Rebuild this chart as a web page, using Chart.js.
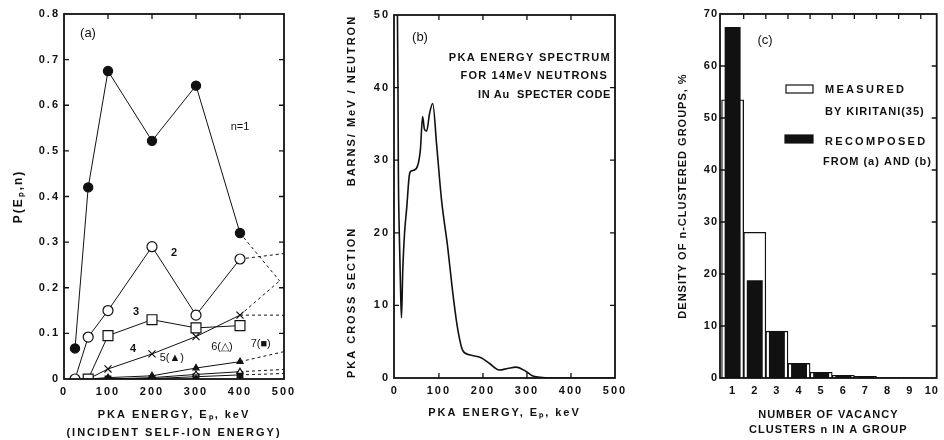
<!DOCTYPE html>
<html>
<head>
<meta charset="utf-8">
<script src="https://cdn.jsdelivr.net/npm/chart.js@4.4.0/dist/chart.umd.min.js"></script>
<style>
  body { margin: 0; background: #fff; }
  #figura { position: relative; width: 944px; height: 440px; overflow: hidden; background: #fff; }
  #figura canvas { position: absolute; top: 0; }
</style>
</head>
<body>
<div id="figura">
  <canvas id="graf_a" width="300" height="440" style="left:0px"></canvas>
  <canvas id="graf_b" width="350" height="440" style="left:300px"></canvas>
  <canvas id="graf_c" width="324" height="440" style="left:620px"></canvas>
</div>
<script>
// ---- (a) probabilidad P(Ep,n) ----
var energias = [25, 55, 100, 200, 300, 400];
var prob_n1 = [0.067, 0.42, 0.675, 0.522, 0.643, 0.32];
var prob_n2 = [0.0, 0.092, 0.15, 0.29, 0.14, 0.263];
var prob_n3 = [null, 0.0, 0.095, 0.13, 0.112, 0.117];
var prob_n4 = [null, 0.0, 0.022, 0.055, 0.093, 0.14];
var prob_n5 = [null, 0.0, 0.003, 0.007, 0.024, 0.038];
var prob_n6 = [null, 0.0, 0.0, 0.003, 0.01, 0.016];
var prob_n7 = [null, 0.0, 0.0, 0.001, 0.005, 0.009];
// extrapolaciones punteadas
var extE_a = [400, 490];
var ext_n1 = [0.32, 0.215];
var ext_n4b = [0.14, 0.215];
var extE_b = [400, 500];
var ext_n2 = [0.263, 0.275];
var ext_n4 = [0.14, 0.14];
var ext_n5 = [0.038, 0.06];
var ext_n6 = [0.016, 0.021];
var ext_n7 = [0.009, 0.012];
var ticksX_a = [0, 100, 200, 300, 400, 500];
var ticksY_a = [0, 0.1, 0.2, 0.3, 0.4, 0.5, 0.6, 0.7, 0.8];

// ---- (b) espectro PKA ----
var energiaPka = [5, 7, 8, 10, 13, 15, 18, 22, 27, 32, 35, 42, 52, 58, 63, 67, 72, 79, 86, 95, 106, 120, 131, 142, 154, 169, 196, 215, 237, 256, 275, 298, 312, 330, 350, 500];
var seccionPka = [56, 40, 28, 20, 12, 8.3, 15, 20, 23.5, 27.5, 28.4, 28.6, 29.3, 31.5, 36, 34.3, 34, 36.5, 37.8, 32, 24.5, 18, 12, 7, 3.8, 3.2, 2.8, 2, 1.1, 1.3, 1.5, 0.9, 0.3, 0.1, 0, 0];
var ticksX_b = [0, 100, 200, 300, 400, 500];
var ticksY_b = [0, 10, 20, 30, 40, 50];

// ---- (c) densidad de grupos ----
var nCumulos = [1, 2, 3, 4, 5, 6, 7, 8, 9, 10];
var medido = [53.5, 28, 9, 2.8, 1.1, 0.5, 0.3, 0.15, 0.1, 0.05];
var recompuesto = [67.5, 18.8, 9, 2.7, 1.0, 0.5, 0.3, 0.1, 0.05, 0.02];
var ticksY_c = [0, 10, 20, 30, 40, 50, 60, 70];
var bordes_c = [1.5, 2.5, 3.5, 4.5, 5.5, 6.5, 7.5, 8.5, 9.5];

var FAM = "'Liberation Sans', Arial, sans-serif";

function puntos(xs, ys) {
  var out = [];
  for (var i = 0; i < xs.length; i++) {
    if (ys[i] !== null) out.push({ x: xs[i], y: ys[i] });
  }
  return out;
}

// marco, marcas internas y textos
var marco = {
  id: "marco",
  beforeDraw: function (chart, args, opts) {
    chart.ctx.letterSpacing = opts.espacio || "0px";
  },
  afterDraw: function (chart, args, opts) {
    var ctx = chart.ctx;
    var a = chart.chartArea;
    var sx = chart.scales.x;
    var sy = chart.scales.y;
    var largo = 5;
    ctx.save();
    ctx.strokeStyle = "#111";
    ctx.lineWidth = 1.8;
    ctx.strokeRect(a.left, a.top, a.right - a.left, a.bottom - a.top);
    ctx.lineWidth = 1.3;
    ctx.beginPath();
    var xs = opts.marcasX || sx.ticks.map(function (t) { return t.value; });
    xs.forEach(function (v) {
      var px = sx.getPixelForValue(v);
      if (px <= a.left + 2 || px >= a.right - 2) return;
      ctx.moveTo(px, a.top);
      ctx.lineTo(px, a.top + largo);
      if (opts.abajo !== false) {
        ctx.moveTo(px, a.bottom);
        ctx.lineTo(px, a.bottom - largo);
      }
    });
    sy.ticks.forEach(function (t) {
      var py = sy.getPixelForValue(t.value);
      if (py <= a.top + 2 || py >= a.bottom - 2) return;
      ctx.moveTo(a.left, py);
      ctx.lineTo(a.left + largo, py);
      ctx.moveTo(a.right, py);
      ctx.lineTo(a.right - largo, py);
    });
    ctx.stroke();

    (opts.cajas || []).forEach(function (c) {
      ctx.fillStyle = c.relleno;
      ctx.fillRect(c.x, c.y, c.w, c.h);
      ctx.lineWidth = 1.2;
      ctx.strokeRect(c.x, c.y, c.w, c.h);
    });

    ctx.fillStyle = "#111";
    ctx.textBaseline = "middle";
    (opts.textos || []).forEach(function (t) {
      var px = t.datos ? sx.getPixelForValue(t.x) : t.x;
      var py = t.datos ? sy.getPixelForValue(t.y) : t.y;
      ctx.font = t.font;
      ctx.letterSpacing = t.esp || "0px";
      ctx.textAlign = t.align || "center";
      ctx.fillText(t.t, px, py);
    });
    ctx.restore();
  },
};

function ejeLineal(min, max, ticks, extra) {
  var eje = {
    type: "linear",
    min: min,
    max: max,
    offset: false,
    grid: { display: false, drawTicks: false },
    border: { display: false },
    afterBuildTicks: function (s) {
      s.ticks = ticks.map(function (v) { return { value: v }; });
    },
  };
  for (var k in extra) eje[k] = extra[k];
  return eje;
}

// ---------- (a) ----------
var fuenteTick = { family: FAM, size: 11, weight: "bold" };
var lineaBase = { borderColor: "#111", borderWidth: 1, pointBorderColor: "#111", pointBorderWidth: 1.2, showLine: true };
function serie(datos, estilo) {
  var d = { data: datos };
  for (var k in lineaBase) d[k] = lineaBase[k];
  for (var j in estilo) d[j] = estilo[j];
  return d;
}
var punteado = { borderDash: [3, 3], pointRadius: 0, borderWidth: 1 };

new Chart(document.getElementById("graf_a").getContext("2d"), {
  type: "scatter",
  data: {
    datasets: [
      serie(puntos(energias, prob_n1), { pointStyle: "circle", pointRadius: 4.6, pointBackgroundColor: "#111" }),
      serie(puntos(energias, prob_n2), { pointStyle: "circle", pointRadius: 5, pointBackgroundColor: "#fff" }),
      serie(puntos(energias, prob_n3), { pointStyle: "rect", pointRadius: 7, pointBackgroundColor: "#fff" }),
      serie(puntos(energias, prob_n4), { pointStyle: "crossRot", pointRadius: 5 }),
      serie(puntos(energias, prob_n5), { pointStyle: "triangle", pointRadius: 3.5, pointBackgroundColor: "#111" }),
      serie(puntos(energias, prob_n6), { pointStyle: "triangle", pointRadius: 3.5, pointBackgroundColor: "#fff" }),
      serie(puntos(energias, prob_n7), { pointStyle: "rect", pointRadius: 4, pointBackgroundColor: "#111" }),
      serie(puntos(extE_a, ext_n1), punteado),
      serie(puntos(extE_a, ext_n4b), punteado),
      serie(puntos(extE_b, ext_n2), punteado),
      serie(puntos(extE_b, ext_n4), punteado),
      serie(puntos(extE_b, ext_n5), punteado),
      serie(puntos(extE_b, ext_n6), punteado),
      serie(puntos(extE_b, ext_n7), punteado),
    ],
  },
  options: {
    responsive: false,
    animation: false,
    layout: { padding: { left: 0, right: 16, top: 14, bottom: 0 } },
    plugins: {
      legend: { display: false },
      tooltip: { enabled: false },
      marco: {
        espacio: "2px",
        textos: [
          { t: "(a)", x: 88, y: 33, font: "13px " + FAM },
          { t: "n=1", x: 400, y: 0.553, datos: true, font: "11px " + FAM },
          { t: "2", x: 250, y: 0.276, datos: true, font: "bold 11px " + FAM },
          { t: "3", x: 164, y: 0.147, datos: true, font: "bold 11px " + FAM },
          { t: "4", x: 157, y: 0.066, datos: true, font: "bold 11px " + FAM },
          { t: "5(▲)", x: 245, y: 0.046, datos: true, font: "11px " + FAM },
          { t: "6(△)", x: 359, y: 0.07, datos: true, font: "11px " + FAM },
          { t: "7(■)", x: 447, y: 0.077, datos: true, font: "11px " + FAM },
        ],
      },
    },
    scales: {
      x: ejeLineal(0, 500, ticksX_a, {
        position: "bottom",
        afterFit: function (s) { s.height = 61; },
        ticks: { autoSkip: false, maxRotation: 0, color: "#111", padding: 6, font: fuenteTick },
        title: {
          display: true,
          text: ["PKA ENERGY, Eₚ, keV", "(INCIDENT SELF-ION ENERGY)"],
          color: "#111",
          font: { family: FAM, size: 11, weight: "bold", lineHeight: 1.65 },
          padding: { top: 0, bottom: -2 },
        },
      }),
      y: ejeLineal(0, 0.8, ticksY_a, {
        afterFit: function (s) { s.width = 64; },
        ticks: { autoSkip: false, color: "#111", padding: 4, font: fuenteTick },
        title: {
          display: true,
          text: "P(Eₚ,n)",
          color: "#111",
          font: { family: FAM, size: 12, weight: "bold" },
          padding: { top: 11, bottom: 0 },
        },
      }),
    },
  },
  plugins: [marco],
});

// ---------- (b) ----------
new Chart(document.getElementById("graf_b").getContext("2d"), {
  type: "line",
  data: {
    datasets: [
      {
        label: "PKA",
        data: puntos(energiaPka, seccionPka),
        borderColor: "#111",
        borderWidth: 1.6,
        pointRadius: 0,
        cubicInterpolationMode: "monotone",
        fill: false,
      },
    ],
  },
  options: {
    responsive: false,
    animation: false,
    layout: { padding: { left: 0, right: 35, top: 15, bottom: 0 } },
    plugins: {
      legend: { display: false },
      tooltip: { enabled: false },
      marco: {
        espacio: "2px",
        textos: [
          { t: "(b)", x: 120, y: 37, font: "13px " + FAM },
          { t: "PKA ENERGY SPECTRUM", x: 311, y: 58, align: "right", font: "bold 11px " + FAM, esp: "1.3px" },
          { t: "FOR 14MeV NEUTRONS", x: 308, y: 76, align: "right", font: "bold 11px " + FAM, esp: "1.2px" },
          { t: "IN Au  SPECTER CODE", x: 311, y: 95, align: "right", font: "bold 11px " + FAM, esp: "0.6px" },
        ],
      },
    },
    scales: {
      x: ejeLineal(-2, 500, ticksX_b, {
        afterFit: function (s) { s.height = 62; },
        ticks: { autoSkip: false, maxRotation: 0, color: "#111", padding: 6, font: fuenteTick },
        title: {
          display: true,
          text: "PKA ENERGY, Eₚ, keV",
          color: "#111",
          font: { family: FAM, size: 11, weight: "bold" },
          padding: { top: 0, bottom: 20 },
        },
      }),
      y: ejeLineal(0, 50, ticksY_b, {
        afterFit: function (s) { s.width = 94; },
        ticks: { autoSkip: false, color: "#111", padding: 4, font: fuenteTick },
        title: {
          display: true,
          text: "PKA CROSS SECTION        BARNS/ MeV / NEUTRON",
          color: "#111",
          font: { family: FAM, size: 11, weight: "bold" },
          padding: { top: 45, bottom: 0 },
        },
      }),
    },
  },
  plugins: [marco],
});

// ---------- (c) ----------
new Chart(document.getElementById("graf_c").getContext("2d"), {
  type: "bar",
  data: {
    datasets: [
      {
        label: "RECOMPOSED FROM (a) AND (b)",
        data: puntos(nCumulos, recompuesto),
        backgroundColor: "#111",
        borderWidth: 0,
        barPercentage: 0.72,
        categoryPercentage: 1,
        grouped: false,
      },
      {
        label: "MEASURED BY KIRITANI(35)",
        data: puntos(nCumulos, medido),
        backgroundColor: "#fff",
        borderColor: "#111",
        borderWidth: 1.3,
        barPercentage: 1,
        categoryPercentage: 1,
        grouped: false,
      },
    ],
  },
  options: {
    responsive: false,
    animation: false,
    layout: { padding: { left: 0, right: 2, top: 14, bottom: 0 } },
    plugins: {
      legend: { display: false },
      tooltip: { enabled: false },
      marco: {
        espacio: "1px",
        marcasX: bordes_c,
        abajo: false,
        cajas: [
          { x: 166, y: 85, w: 27, h: 8, relleno: "#fff" },
          { x: 165, y: 135, w: 28, h: 8, relleno: "#111" },
        ],
        textos: [
          { t: "(c)", x: 145, y: 40, font: "13px " + FAM },
          { t: "MEASURED", x: 205, y: 90, align: "left", font: "bold 11px " + FAM, esp: "2.3px" },
          { t: "BY KIRITANI(35)", x: 205, y: 112, align: "left", font: "bold 11px " + FAM, esp: "1px" },
          { t: "RECOMPOSED", x: 205, y: 142, align: "left", font: "bold 11px " + FAM, esp: "2.3px" },
          { t: "FROM (a) AND (b)", x: 203, y: 162, align: "left", font: "bold 11px " + FAM, esp: "1px" },
        ],
      },
    },
    scales: {
      x: ejeLineal(0.43, 10.22, nCumulos, {
        afterFit: function (s) { s.height = 62; },
        ticks: { autoSkip: false, maxRotation: 0, color: "#111", padding: 6, font: { family: FAM, size: 11, weight: "bold" } },
        title: {
          display: true,
          text: ["NUMBER OF VACANCY", "CLUSTERS n IN A GROUP"],
          color: "#111",
          font: { family: FAM, size: 11, weight: "bold", lineHeight: 1.4 },
          padding: { top: 0, bottom: 2 },
        },
      }),
      y: ejeLineal(0, 70, ticksY_c, {
        afterFit: function (s) { s.width = 100; },
        ticks: { autoSkip: false, color: "#111", padding: 2, font: { family: FAM, size: 11, weight: "bold" } },
        title: {
          display: true,
          text: "DENSITY OF n-CLUSTERED GROUPS, %",
          color: "#111",
          font: { family: FAM, size: 11, weight: "bold" },
          padding: { top: 56, bottom: 0 },
        },
      }),
    },
  },
  plugins: [marco],
});
</script>
</body>
</html>
